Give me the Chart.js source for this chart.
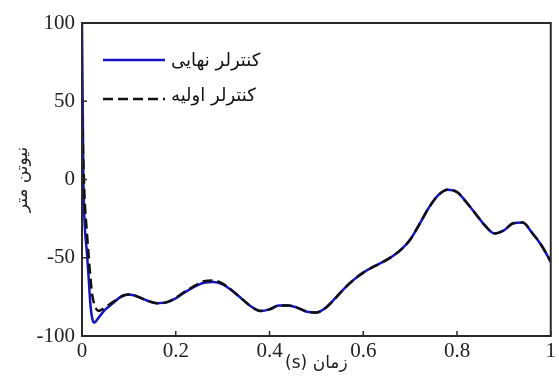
<!DOCTYPE html>
<html>
<head>
<meta charset="utf-8">
<script src="https://cdn.jsdelivr.net/npm/chart.js@4.4.1/dist/chart.umd.min.js"></script>
<style>
  html, body { margin: 0; padding: 0; background: #fff; }
</style>
</head>
<body>
<canvas id="torqueChart" width="559" height="378"></canvas>
<script>
// time samples (s)
const timeValues = [0, 0.003, 0.006, 0.01, 0.014, 0.018, 0.022, 0.026, 0.03, 0.035, 0.04, 0.05, 0.06, 0.07, 0.08, 0.09, 0.1, 0.11, 0.12, 0.14, 0.16, 0.18, 0.2, 0.22, 0.24, 0.26, 0.28, 0.3, 0.32, 0.34, 0.36, 0.38, 0.4, 0.42, 0.44, 0.46, 0.48, 0.5, 0.52, 0.54, 0.56, 0.58, 0.6, 0.62, 0.64, 0.66, 0.68, 0.7, 0.72, 0.74, 0.76, 0.78, 0.8, 0.82, 0.84, 0.86, 0.88, 0.9, 0.92, 0.94, 0.96, 0.98, 1.0];

// final controller (blue, solid)
const finalTorque = [100, 0, -30, -45, -62, -80, -89, -91.5, -90.5, -88.5, -86.5, -83, -80.5, -78, -75.5, -74, -73.5, -74, -75, -77.5, -79, -78.5, -76, -72, -68.5, -66, -65.5, -67, -71, -76, -81, -84, -83, -80.5, -80.5, -82, -84.5, -85, -82, -76, -69.5, -64, -59.5, -56, -53, -49.5, -45, -38.5, -28.5, -18, -10, -6.5, -8, -14.5, -22, -29.5, -34.5, -32.5, -28, -27.5, -34, -42, -52.5];

// initial controller (black, dashed)
const initialTorque = [42, 10, -15, -32, -48, -63, -74, -79.5, -82.5, -84, -83.5, -81.5, -79.5, -77.5, -75.5, -74, -73.5, -74, -75, -77.5, -79, -78.5, -75.5, -71.5, -68, -65, -64.5, -66.5, -71, -76, -81, -84, -83, -80.5, -80.5, -82, -84.5, -85, -82, -76, -69.5, -64, -59.5, -56, -53, -49.5, -45, -38.5, -28.5, -18, -10, -6.5, -8, -14.5, -22, -29.5, -34.5, -32.5, -28, -27.5, -34, -42, -52.5];

const seriesLabels = ["کنترلر نهایی", "کنترلر اولیه"];
const yTicks = [-100, -50, 0, 50, 100];
const xTicks = [0, 0.2, 0.4, 0.6, 0.8, 1];

const serif = "'Liberation Serif', 'Times New Roman', serif";
const arabicFont = "'DejaVu Sans', 'Liberation Serif', serif";

// frame, inward tick marks and the legend inside the plot
const framePlugin = {
  id: "frame",
  afterDatasetsDraw(chart) {
    const { ctx, chartArea: a, scales } = chart;
    ctx.save();
    ctx.strokeStyle = "#2a2a2a";
    ctx.lineWidth = 2;
    ctx.strokeRect(a.left, a.top, a.right - a.left, a.bottom - a.top);

    ctx.lineWidth = 1.5;
    ctx.beginPath();
    xTicks.forEach((v) => {
      const px = scales.x.getPixelForValue(v);
      ctx.moveTo(px, a.bottom);
      ctx.lineTo(px, a.bottom - 5);
    });
    yTicks.forEach((v) => {
      const py = scales.y.getPixelForValue(v);
      ctx.moveTo(a.left, py);
      ctx.lineTo(a.left + 5, py);
    });
    ctx.stroke();

    // legend
    const rows = [
      { y: a.top + 37, textY: a.top + 38, color: "#1414c0", dash: [] },
      { y: a.top + 76, textY: a.top + 73, color: "#111", dash: [10, 5] },
    ];
    rows.forEach((r, i) => {
      ctx.strokeStyle = r.color;
      ctx.lineWidth = 2.5;
      ctx.setLineDash(r.dash);
      ctx.beginPath();
      ctx.moveTo(a.left + 21, r.y);
      ctx.lineTo(a.left + 83, r.y);
      ctx.stroke();
      ctx.setLineDash([]);
      ctx.fillStyle = "#111";
      ctx.font = "18px " + arabicFont;
      ctx.textAlign = "left";
      ctx.textBaseline = "middle";
      ctx.fillText(seriesLabels[i], a.left + 89, r.textY);
    });
    ctx.restore();
  },
};

new Chart(document.getElementById("torqueChart"), {
  type: "line",
  data: {
    datasets: [
      {
        label: seriesLabels[1],
        data: timeValues.map((t, i) => ({ x: t, y: initialTorque[i] })),
        borderColor: "#111",
        borderWidth: 2.5,
        borderDash: [10, 5],
        pointRadius: 0,
        cubicInterpolationMode: "monotone",
        order: 0,
      },
      {
        label: seriesLabels[0],
        data: timeValues.map((t, i) => ({ x: t, y: finalTorque[i] })),
        borderColor: "#1414c0",
        borderWidth: 2.5,
        pointRadius: 0,
        cubicInterpolationMode: "monotone",
        order: 1,
      },
    ],
  },
  options: {
    responsive: false,
    animation: false,
    layout: { padding: { top: 23, right: 6, left: 0, bottom: 0 } },
    plugins: {
      legend: { display: false },
      tooltip: { enabled: false },
    },
    scales: {
      x: {
        type: "linear",
        min: 0,
        max: 1,
        afterBuildTicks: (scale) => {
          scale.ticks = xTicks.map((v) => ({ value: v }));
        },
        afterFit: (scale) => {
          scale.height = 42;
        },
        grid: { display: false, drawTicks: false },
        border: { display: false },
        ticks: {
          padding: 3,
          color: "#222",
          font: { family: serif, size: 21 },
          callback: (v) => String(+v.toFixed(1)),
        },
        title: {
          display: true,
          // RTL isolate so "(s)" sits to the left of the word, as in the original
          text: "\u2067زمان (s)\u2069",
          color: "#222",
          font: { family: arabicFont, size: 17 },
          padding: { top: 0, bottom: 4 },
        },
      },
      y: {
        min: -100,
        max: 100,
        afterBuildTicks: (scale) => {
          scale.ticks = yTicks.map((v) => ({ value: v }));
        },
        afterFit: (scale) => {
          scale.width = 82;
        },
        grid: { display: false, drawTicks: false },
        border: { display: false },
        ticks: {
          padding: 7,
          color: "#222",
          font: { family: serif, size: 21 },
        },
        title: {
          display: true,
          text: "نیوتن متر",
          color: "#222",
          font: { family: arabicFont, size: 17 },
          padding: { top: 12, bottom: 0 },
        },
      },
    },
  },
  plugins: [framePlugin],
});
</script>
</body>
</html>
